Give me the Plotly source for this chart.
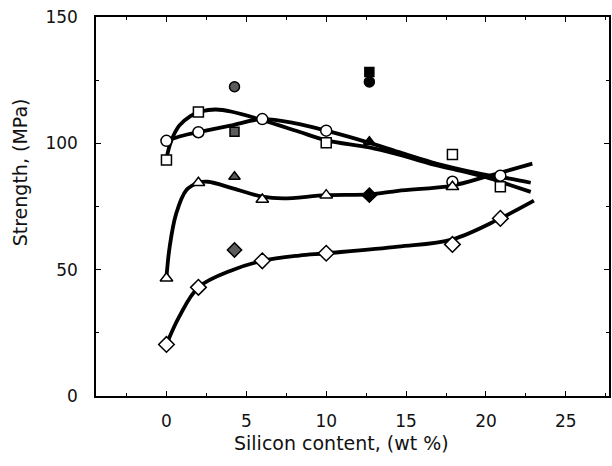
import plotly.graph_objects as go

# ---- data ----
# open markers (measured points)
sq_x = [0, 2, 10, 17.9, 20.9]
sq_y = [93.4, 112.4, 100.2, 95.6, 82.8]
ci_x = [0, 2, 6, 10, 17.9, 20.9]
ci_y = [101, 104.4, 109.6, 105, 84.8, 87.2]
tr_x = [0, 2, 6, 10, 17.9]
tr_y = [46.6, 84.4, 77.8, 79.5, 82.8]
di_x = [0, 2, 6, 10, 17.9, 20.9]
di_y = [20.4, 43, 53.5, 56.5, 60, 70.3]

# grey (textured) filled markers at ~4.3 wt%
grey_x = 4.26
grey_ci, grey_sq, grey_tr, grey_di = 122.4, 104.6, 86.8, 57.8
# black filled markers at ~12.7 wt%
blk_x = 12.7
blk_ci, blk_sq, blk_tr, blk_di = 124.3, 128.2, 100.6, 79.5

# fitted curves
sq_fit_x = [0, 0.3, 0.8, 1.5, 2.2, 3.1, 4.1, 6, 8.3, 10, 12.7, 14.5, 16.6, 18.5, 20, 21.5, 22.8]
sq_fit_y = [94, 101, 107, 110.8, 112.7, 113.4, 112.5, 109.2, 104.6, 101.2, 98.4, 95.6, 91.8, 89, 86.6, 83.5, 80.8]
ci_fit_x = [0, 1, 2, 4, 6, 8, 10, 12.7, 14.5, 16.6, 18.5, 20, 21.5, 22.8]
ci_fit_y = [101, 103, 104.4, 107, 109.6, 108, 105, 100.2, 96.6, 92.5, 89.5, 87.5, 86, 84.4]
tr_fit_x = [0, 0.2, 0.6, 1.25, 2, 2.6, 4.15, 6, 7.3, 10, 12.7, 14.5, 17.9, 20, 22.9]
tr_fit_y = [47, 59, 72, 81.5, 84.4, 84.8, 82.2, 78.9, 78.2, 79.5, 79.8, 81.2, 83.3, 86.8, 92]
di_fit_x = [0, 0.8, 2, 4.15, 6, 8.3, 10, 14.5, 17.9, 20.9, 23]
di_fit_y = [20.4, 31.4, 43, 49.9, 53.5, 55.6, 56.5, 59.1, 62, 70.3, 77.3]

x_ticks = [0, 5, 10, 15, 20, 25]
y_ticks = [0, 50, 100, 150]

FONT = "DejaVu Sans"
fig = go.Figure()

for fx, fy in [(sq_fit_x, sq_fit_y), (ci_fit_x, ci_fit_y), (tr_fit_x, tr_fit_y), (di_fit_x, di_fit_y)]:
    fig.add_trace(go.Scatter(x=fx, y=fy, mode="lines",
                             line=dict(color="black", width=3.8, shape="spline", smoothing=1.0),
                             hoverinfo="skip", showlegend=False))

def pts(x, y, symbol, size, fill):
    fig.add_trace(go.Scatter(x=x, y=y, mode="markers", showlegend=False,
                             marker=dict(symbol=symbol, size=size, color=fill,
                                         line=dict(color="black", width=1.5))))

pts(sq_x, sq_y, "square", 10, "white")
pts(ci_x, ci_y, "circle", 11, "white")
pts(tr_x, tr_y, "triangle-up", 11, "white")
pts(di_x, di_y, "diamond", 12, "white")

grey = "#5c5c5c"
pts([grey_x], [grey_ci], "circle", 10, grey)
pts([grey_x], [grey_sq], "square", 9, grey)
pts([grey_x], [grey_tr], "triangle-up", 10, grey)
pts([grey_x], [grey_di], "diamond", 11, grey)

pts([blk_x], [blk_sq], "square", 9, "black")
pts([blk_x], [blk_ci], "circle", 10, "black")
pts([blk_x], [blk_tr], "triangle-up", 10, "black")
pts([blk_x], [blk_di], "diamond", 11, "black")

axis_common = dict(showline=True, linecolor="black", linewidth=1.5, mirror="ticks",
                   ticks="inside", ticklen=5, tickwidth=1.2, tickcolor="black",
                   showgrid=False, zeroline=False,
                   tickfont=dict(family=FONT, size=17, color="#111"))

fig.update_xaxes(range=[-4.41, 27.7], tickvals=x_ticks, ticklabelstandoff=9,
                 minor=dict(ticks="inside", ticklen=3, dtick=2.5, tick0=0, tickcolor="black"),
                 **axis_common)
fig.update_yaxes(range=[0, 150], tickvals=y_ticks, ticklabelstandoff=13,
                 minor=dict(ticks="inside", ticklen=3, dtick=25, tick0=0, tickcolor="black"),
                 **axis_common)

fig.update_layout(
    width=612, height=466,
    margin=dict(l=96, r=1, t=17, b=70),
    plot_bgcolor="white", paper_bgcolor="white",
    showlegend=False,
    annotations=[
        dict(text="Silicon content, (wt %)", xref="paper", yref="paper",
             x=(342 - 96) / 515, y=(396 - 443) / 379, xanchor="center", yanchor="middle",
             showarrow=False, font=dict(family=FONT, size=19, color="#111")),
        dict(text="Strength, (MPa)", xref="paper", yref="paper", textangle=-90,
             x=(20 - 96) / 515, y=(396 - 172) / 379, xanchor="center", yanchor="middle",
             showarrow=False, font=dict(family=FONT, size=19, color="#111")),
    ],
)

fig.write_html("out.html")
